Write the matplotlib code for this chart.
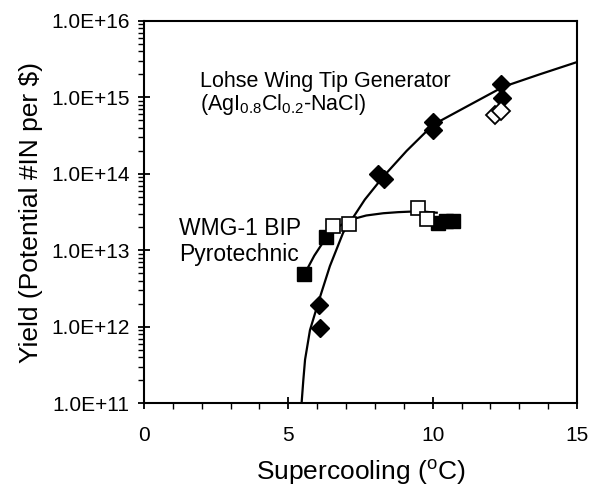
import numpy as np
import matplotlib.pyplot as plt
from matplotlib.ticker import FixedLocator, FixedFormatter, MultipleLocator, LogLocator, NullFormatter

plt.rcParams['font.family'] = ['Liberation Sans', 'DejaVu Sans']
plt.rcParams['mathtext.fontset'] = 'custom'
plt.rcParams['mathtext.rm'] = 'Liberation Sans'
plt.rcParams['mathtext.it'] = 'Liberation Sans'

# Lohse wing tip generator (AgI0.8Cl0.2-NaCl)
lohse_x = [6.05, 6.1, 8.1, 8.3, 10.0, 10.0, 12.35, 12.4]
lohse_y = [1.9e12, 9.5e11, 1.0e14, 8.5e13, 4.8e14, 3.8e14, 1.5e15, 9.8e14]
lohse_open_x = [12.15, 12.35]
lohse_open_y = [5.8e14, 6.6e14]
# fitted curve
lohse_fit_x = [5.46, 5.52, 5.58, 5.75, 6.06, 6.44, 6.9, 7.65, 8.29, 9.1, 10.02, 11.18, 12.45, 13.7, 15.0]
lohse_fit_y = [1.0e11, 2.0e11, 3.7e11, 9.0e11, 2.2e12, 6.2e12, 1.7e13, 4.6e13, 9.2e13, 2.0e14,
               4.4e14, 7.6e14, 1.38e15, 2.0e15, 2.9e15]

# WMG-1 BIP pyrotechnic
wmg_x = [5.55, 6.3, 10.2, 10.45, 10.7]
wmg_y = [4.9e12, 1.48e13, 2.3e13, 2.4e13, 2.45e13]
wmg_open_x = [6.55, 7.1, 9.5, 9.8]
wmg_open_y = [2.1e13, 2.2e13, 3.6e13, 2.6e13]
wmg_fit_x = [5.6, 5.9, 6.33, 6.7, 7.14, 7.7, 8.29, 8.8, 9.21, 9.7, 10.14]
wmg_fit_y = [5.2e12, 8.5e12, 1.5e13, 2.0e13, 2.5e13, 2.85e13, 3.05e13, 3.15e13, 3.2e13, 3.2e13, 3.1e13]

y_ticks = [1e11, 1e12, 1e13, 1e14, 1e15, 1e16]
y_labels = ['1.0E+11', '1.0E+12', '1.0E+13', '1.0E+14', '1.0E+15', '1.0E+16']
x_ticks = [0, 5, 10, 15]

fig = plt.figure(figsize=(5.9, 4.88), dpi=100)
ax = fig.add_axes([0.244, 0.174, 0.734, 0.783])

ax.plot(lohse_fit_x, lohse_fit_y, color='black', lw=1.6, zorder=2)
ax.plot(wmg_fit_x, wmg_fit_y, color='black', lw=1.6, zorder=2)

ax.plot(lohse_x, lohse_y, 'D', color='black', ms=9.5, zorder=3)
ax.plot(lohse_open_x, lohse_open_y, 'D', mfc='white', mec='black', mew=1.3, ms=9.5, zorder=3)
ax.plot(wmg_x, wmg_y, 's', color='black', ms=10, zorder=3)
ax.plot(wmg_open_x, wmg_open_y, 's', mfc='white', mec='black', mew=1.2, ms=10, zorder=3)

ax.set_yscale('log')
ax.set_xlim(0, 15)
ax.set_ylim(1e11, 1e16)

ax.yaxis.set_major_locator(FixedLocator(y_ticks))
ax.yaxis.set_major_formatter(FixedFormatter(y_labels))
ax.yaxis.set_minor_locator(LogLocator(base=10, subs=np.arange(2, 10)))
ax.yaxis.set_minor_formatter(NullFormatter())
ax.xaxis.set_major_locator(FixedLocator(x_ticks))
ax.xaxis.set_minor_locator(MultipleLocator(1))

ax.tick_params(which='major', direction='inout', length=9, width=1.3, labelsize=15, pad=6)
ax.tick_params(which='minor', direction='out', length=4, width=1.0)
ax.tick_params(axis='x', which='major', pad=12)

for s in ['left', 'bottom', 'right', 'top']:
    ax.spines[s].set_linewidth(1.5)

ax.set_xlabel('Supercooling ($^{\\mathrm{o}}$C)', fontsize=19, labelpad=9)
ax.set_ylabel('Yield (Potential #IN per $)', fontsize=19, labelpad=6)

ax.text(0.129, 0.842, 'Lohse Wing Tip Generator', transform=ax.transAxes, fontsize=15.5, va='center')
ax.text(0.129, 0.781, '(AgI$_{\\mathrm{0.8}}$Cl$_{\\mathrm{0.2}}$-NaCl)', transform=ax.transAxes,
        fontsize=15.5, va='center')
ax.text(0.081, 0.458, 'WMG-1 BIP', transform=ax.transAxes, fontsize=16.5, va='center')
ax.text(0.081, 0.388, 'Pyrotechnic', transform=ax.transAxes, fontsize=16.5, va='center')

fig.savefig('out.png', dpi=100)
